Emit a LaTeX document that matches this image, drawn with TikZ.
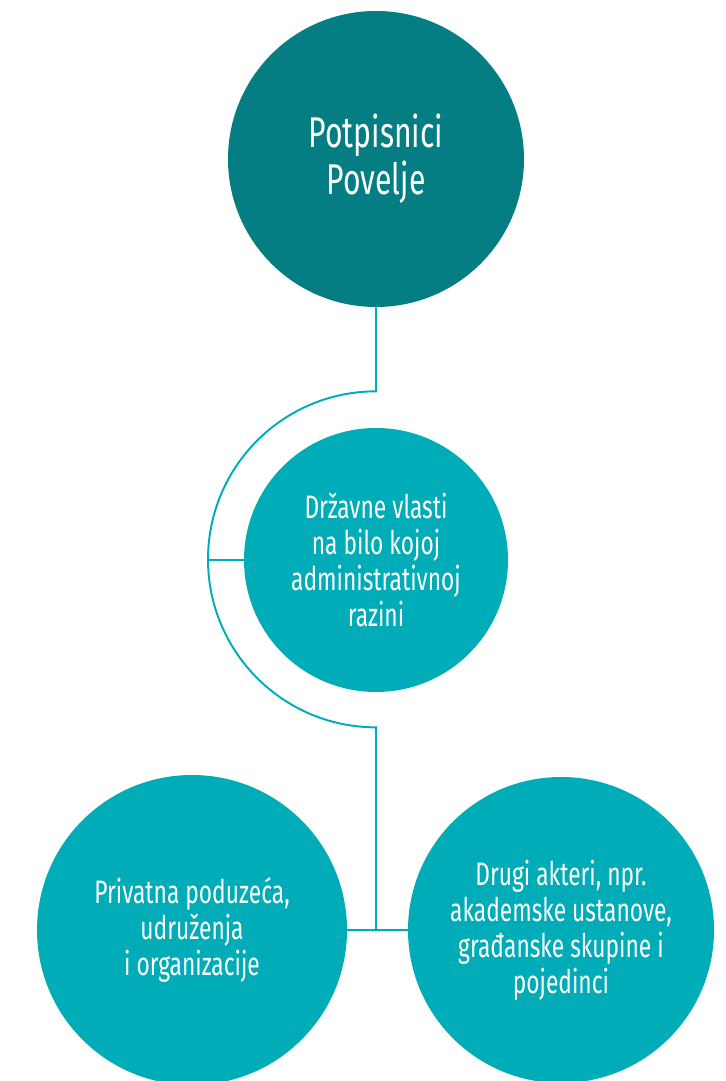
\documentclass[tikz,border=0pt]{standalone}
\usepackage{fontspec}
\setmainfont{Fira Sans}[FakeStretch=0.7]
\usepackage{tikz}

\definecolor{darkteal}{HTML}{047E83}
\definecolor{teal2}{HTML}{00ACB7}

\begin{document}
\begin{tikzpicture}[x=0.02cm,y=0.02cm,
	bubble/.style={circle,fill=teal2,text=white,align=center,inner sep=0pt,
		font=\fontsize{18.5}{20.5}\selectfont},
	link/.style={draw=teal2,line width=1.1pt}]
	\useasboundingbox (0,0) rectangle (725,1081);

	\node[bubble,fill=darkteal,minimum size=296*0.02cm,
		font=\fontsize{24.5}{27}\selectfont] (signers) at (376,922) {Potpisnici\\Povelje};
	\node[bubble,minimum size=264*0.02cm] (authorities) at (376,521)
		{Državne vlasti\\na bilo kojoj\\administrativnoj\\razini};
	\node[bubble,minimum size=310*0.02cm] (business) at (192,151)
		{Privatna poduzeća,\\udruženja\\i organizacije};
	\node[bubble,minimum size=306*0.02cm] (others) at (561,151)
		{Drugi akteri, npr.\\akademske ustanove,\\građanske skupine i\\pojedinci};

	\coordinate (arcin) at (208,521);

	\draw[link] (signers.south) -- ++(0,-84) arc[start angle=90,end angle=270,radius=168]
		-- (signers.south |- business.east);
	\draw[link] (arcin) -- (authorities.west);
	\draw[link] (business.east) -- (others.west);
\end{tikzpicture}
\end{document}
